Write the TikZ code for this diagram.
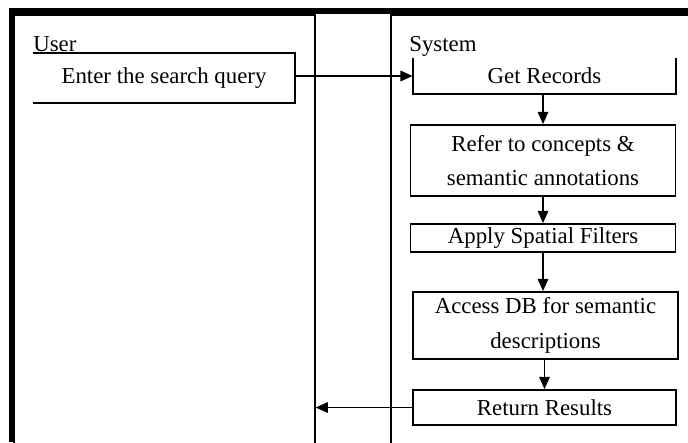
\documentclass[tikz,border=0pt]{standalone}
\usepackage{fontspec}
\setmainfont{Liberation Serif}
\usetikzlibrary{arrows.meta}

\begin{document}
\begin{tikzpicture}[
    x = 0.02cm, y = -0.02cm,
    txt/.style = {font = \fontsize{13}{19.5}\selectfont},
    task/.style = {txt, draw, line width = 1pt, align = center, inner sep = 0pt, minimum width = 5.3cm},
    openbox/.style = {txt, align = center, inner sep = 0pt},
    lane/.style = {draw, line width = 0.7pt, inner sep = 0pt},
    frame/.style = {line width = 3pt},
    flow/.style = {-{Triangle[length = 7pt, width = 6pt]}, line width = 0.9pt},
    ]
    \useasboundingbox (0,0) rectangle (688,442);
    \clip (0,0) rectangle (688,442);

    \node[lane, minimum width = 6.02cm, minimum height = 9.1cm] (user) at (164.5,242.5) {};
    \node[lane, minimum width = 6.18cm, minimum height = 9.1cm] (system) at (545.5,242.5) {};
    \draw[frame] (12,442) -- (12,11) -- (688,11);

    \node[txt, anchor = base west, inner sep = 0pt] (userlabel) at (33,52) {User};
    \node[txt, anchor = base west, inner sep = 0pt] (systemlabel) at (409,52) {System};

    \node[openbox, minimum width = 5.24cm, minimum height = 1cm] (enter) at (164,78) {Enter the search query};
    \node[openbox, minimum width = 5.26cm, minimum height = 0.72cm] (get) at (544.5,76) {Get Records};
    \node[task, minimum height = 1.42cm] (refer) at (543,160.5) {Refer to concepts \&\\semantic annotations};
    \node[task, minimum height = 0.56cm] (apply) at (543,238) {Apply Spatial Filters};
    \node[task, minimum height = 1.34cm] (access) at (545.5,325.5) {Access DB for semantic\\descriptions};
    \node[task, minimum width = 5.26cm, minimum height = 0.7cm] (ret) at (544.5,407.5) {Return Results};

    \draw[line width = 1pt] (enter.north west) -- (enter.north east) -- (enter.south east) -- (enter.south west);
    \draw[line width = 1pt] (get.north west) -- (get.south west) -- (get.south east) -- (get.north east);

    \path[flow] (enter.east |- get.west) edge (get.west);
    \path[flow] (get.south -| refer.north) edge (refer.north);
    \path[flow] (refer.south) edge (apply.north);
    \path[flow] (apply.south) edge (access.north -| apply.south);
    \path[flow] (access.south -| ret.north) edge (ret.north);
    \path[flow] (ret.west) edge (ret.west -| user.east);
\end{tikzpicture}
\end{document}
